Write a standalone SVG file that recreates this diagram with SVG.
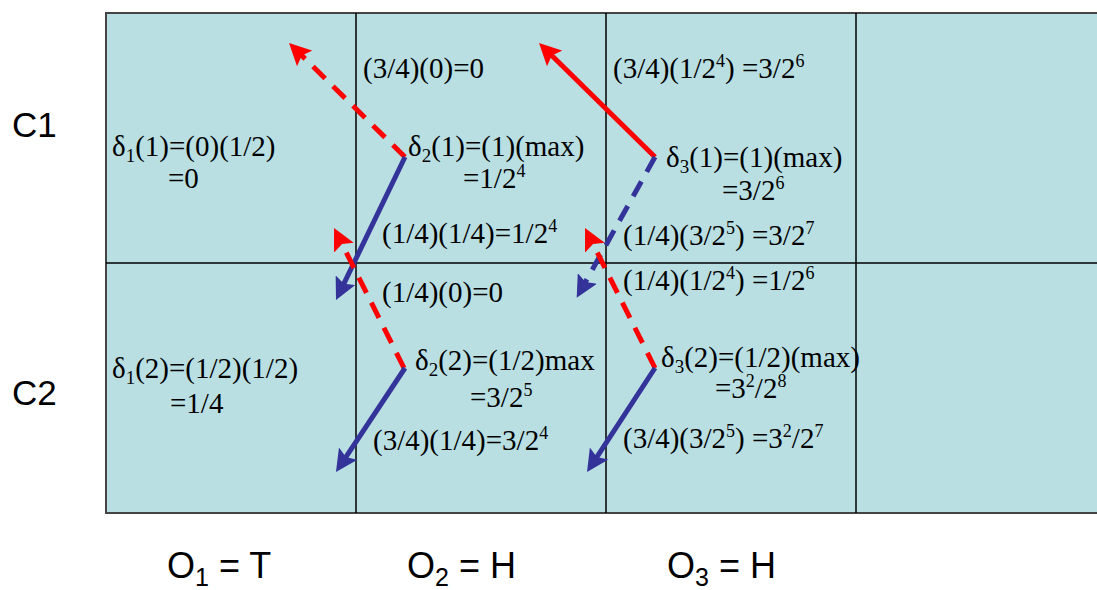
<svg xmlns="http://www.w3.org/2000/svg" width="1097" height="590" viewBox="0 0 1097 590">
<style>
.t{font-family:"Liberation Serif","Times New Roman",serif;font-size:29px;fill:#000}
.s{font-size:19px}
.p{font-size:18px}
.lab{font-family:"Liberation Sans",Arial,sans-serif;font-size:35px;fill:#000}
.lb{font-size:36px}
.ls{font-size:25px}
.grid{stroke:#000;stroke-width:1.5;fill:none}
.red{stroke:#FF0000;stroke-width:5;fill:none}
.blue{stroke:#333399;stroke-width:5;fill:none}
.dash{stroke-dasharray:17 11}
</style>
<defs>
<marker id="ar" viewBox="0 0 22 22" refX="8" refY="11" markerWidth="22" markerHeight="22" markerUnits="userSpaceOnUse" orient="auto">
<path d="M0,0 L22,11 L0,22 L4,11 z" fill="#FF0000"/>
</marker>
<marker id="ab" viewBox="0 0 22 22" refX="8" refY="11" markerWidth="22" markerHeight="22" markerUnits="userSpaceOnUse" orient="auto">
<path d="M0,0 L22,11 L0,22 L4,11 z" fill="#333399"/>
</marker>
</defs>
<g id="table">
<rect x="106" y="13" width="1000" height="500" fill="#B9DFE3" stroke="#444" stroke-width="2"/>
<line class="grid" x1="356" y1="13" x2="356" y2="513"/>
<line class="grid" x1="606" y1="13" x2="606" y2="513"/>
<line class="grid" x1="856" y1="13" x2="856" y2="513"/>
<line class="grid" x1="106" y1="263" x2="1097" y2="263"/>
</g>
<g id="connectors">
<path class="red dash" d="M405,157 L299,52.8" marker-end="url(#ar)"/>
<path class="blue" d="M405,157 L342.1,287.4" marker-end="url(#ab)"/>
<path class="red dash" d="M404,368 L340.3,240.5" marker-end="url(#ar)"/>
<path class="blue" d="M405,368 L343.7,460.3" marker-end="url(#ab)"/>
<path class="red" d="M655,157 L549,52.8" marker-end="url(#ar)"/>
<path class="blue dash" d="M655,157 L583.5,285.5" marker-end="url(#ab)"/>
<path class="red dash" d="M655,368 L591.3,240.5" marker-end="url(#ar)"/>
<path class="blue" d="M655,368 L594.7,460.3" marker-end="url(#ab)"/>
</g>
<g id="rowlabels">
<text class="lab" x="12" y="137">C1</text>
<text class="lab" x="12" y="405">C2</text>
</g>
<g id="collabels">
<text class="lab lb" x="167" y="578">O<tspan class="ls" dy="8">1</tspan><tspan dy="-8"> = T</tspan></text>
<text class="lab lb" x="407" y="578">O<tspan class="ls" dy="8">2</tspan><tspan dy="-8"> = H</tspan></text>
<text class="lab lb" x="667" y="578">O<tspan class="ls" dy="8">3</tspan><tspan dy="-8"> = H</tspan></text>
</g>
<g id="n11">
<text class="t" x="112" y="156">δ<tspan class="s" dy="6">1</tspan><tspan dy="-6">(1)=(0)(1/2)</tspan></text>
<text class="t" x="168" y="188">=0</text>
</g>
<g id="n21">
<text class="t" x="408" y="156">δ<tspan class="s" dy="6">2</tspan><tspan dy="-6">(1)=(1)(max)</tspan></text>
<text class="t" x="463" y="188">=1/2<tspan class="p" dy="-11">4</tspan></text>
</g>
<g id="n31">
<text class="t" x="666" y="167">δ<tspan class="s" dy="6">3</tspan><tspan dy="-6">(1)=(1)(max)</tspan></text>
<text class="t" x="722" y="200">=3/2<tspan class="p" dy="-11">6</tspan></text>
</g>
<g id="n12">
<text class="t" x="112" y="378">δ<tspan class="s" dy="6">1</tspan><tspan dy="-6">(2)=(1/2)(1/2)</tspan></text>
<text class="t" x="170" y="413">=1/4</text>
</g>
<g id="n22">
<text class="t" x="415" y="370">δ<tspan class="s" dy="6">2</tspan><tspan dy="-6">(2)=(1/2)max</tspan></text>
<text class="t" x="470" y="407">=3/2<tspan class="p" dy="-11">5</tspan></text>
</g>
<g id="n32">
<text class="t" x="661" y="367">δ<tspan class="s" dy="6">3</tspan><tspan dy="-6">(2)=(1/2)(max)</tspan></text>
<text class="t" x="715" y="398">=3<tspan class="p" dy="-11">2</tspan><tspan dy="11">/2</tspan><tspan class="p" dy="-11">8</tspan></text>
</g>
<g id="edgelabels">
<text class="t" x="363" y="78">(3/4)(0)=0</text>
<text class="t" x="613" y="78">(3/4)(1/2<tspan class="p" dy="-11">4</tspan><tspan dy="11">) =3/2</tspan><tspan class="p" dy="-11">6</tspan></text>
<text class="t" x="382" y="243">(1/4)(1/4)=1/2<tspan class="p" dy="-11">4</tspan></text>
<text class="t" x="623" y="245">(1/4)(3/2<tspan class="p" dy="-11">5</tspan><tspan dy="11">) =3/2</tspan><tspan class="p" dy="-11">7</tspan></text>
<text class="t" x="382" y="302">(1/4)(0)=0</text>
<text class="t" x="623" y="290">(1/4)(1/2<tspan class="p" dy="-11">4</tspan><tspan dy="11">) =1/2</tspan><tspan class="p" dy="-11">6</tspan></text>
<text class="t" x="373" y="450">(3/4)(1/4)=3/2<tspan class="p" dy="-11">4</tspan></text>
<text class="t" x="623" y="448">(3/4)(3/2<tspan class="p" dy="-11">5</tspan><tspan dy="11">) =3</tspan><tspan class="p" dy="-11">2</tspan><tspan dy="11">/2</tspan><tspan class="p" dy="-11">7</tspan></text>
</g>
</svg>
